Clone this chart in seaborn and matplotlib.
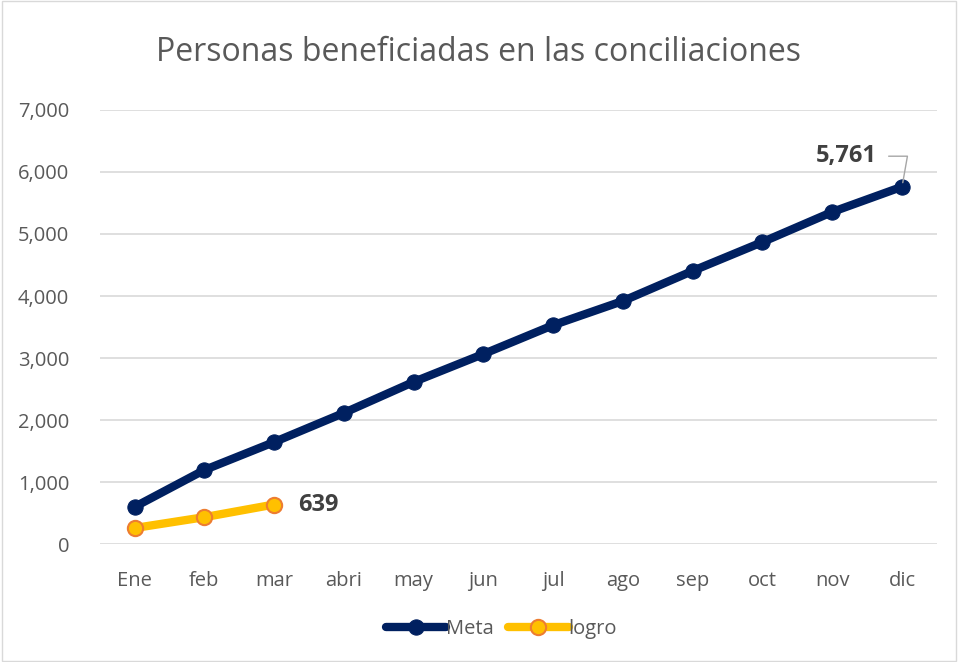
import matplotlib
matplotlib.use('Agg')
from matplotlib import pyplot as plt
import pandas as pd
import seaborn as sns

months = ['Ene', 'feb', 'mar', 'abri', 'may', 'jun', 'jul', 'ago', 'sep', 'oct', 'nov', 'dic']
meta = [600, 1195, 1645, 2115, 2615, 3065, 3530, 3920, 4405, 4870, 5355, 5761]
logro_months = ['Ene', 'feb', 'mar']
logro = [260, 435, 639]

df_meta = pd.DataFrame({'mes': months, 'valor': meta})
df_logro = pd.DataFrame({'mes': logro_months, 'valor': logro})

sns.set_style('white')
plt.rcParams['font.family'] = ['Open Sans', 'DejaVu Sans']
gray = '#595959'

fig = plt.figure(figsize=(9.58, 6.62), dpi=100)
ax = fig.add_axes([0.104, 0.178, 0.874, 0.656])

ax.yaxis.grid(True, color='#d9d9d9', linewidth=1.2)
ax.set_axisbelow(True)

sns.lineplot(x='mes', y='valor', data=df_meta, ax=ax, color='#002060', linewidth=6,
             marker='o', markersize=11, markeredgecolor='#002060', label='Meta', sort=False)
sns.lineplot(x='mes', y='valor', data=df_logro, ax=ax, color='#FFC000', linewidth=6,
             marker='o', markersize=11, markerfacecolor='#FFC000', markeredgecolor='#ED7D31',
             markeredgewidth=1.5, label='logro', sort=False)

ax.set_xlim(-0.5, 11.5)
ax.set_ylim(0, 7000)
ax.set_yticks(range(0, 7001, 1000))
ax.set_yticklabels([f'{v:,}' for v in range(0, 7001, 1000)])
ax.set_xlabel('')
ax.set_ylabel('')
for s in ax.spines.values():
    s.set_visible(False)
ax.tick_params(colors=gray, labelsize=14.5, length=0)
ax.tick_params(axis='x', pad=19)
ax.tick_params(axis='y', pad=22)

ax.annotate(f'{logro[-1]:,}', (2, logro[-1]), xytext=(17, 0), textcoords='offset points',
            fontsize=17, fontweight='bold', color='#404040', va='center', ha='left')
ax.annotate(f'{meta[-1]:,}', (11, meta[-1]), xytext=(-18, 22), textcoords='offset points',
            fontsize=17, fontweight='bold', color='#404040', va='center', ha='right',
            arrowprops=dict(arrowstyle='-', color='#a6a6a6', lw=1,
                            connectionstyle='angle,angleA=0,angleB=80,rad=0',
                            shrinkA=6, shrinkB=3))

fig.suptitle('Personas beneficiadas en las conciliaciones', y=0.945, fontsize=23, color=gray)

leg = ax.legend(loc='upper center', bbox_to_anchor=(0.48, -0.13), ncol=2, frameon=False,
                fontsize=14.5, handlelength=3.0, handletextpad=0.0, columnspacing=0.7)
for t in leg.get_texts():
    t.set_color(gray)

fig.patches.append(plt.Rectangle((0.002, 0.002), 0.996, 0.996, transform=fig.transFigure,
                                 fill=False, edgecolor='#d9d9d9', linewidth=1))

fig.savefig('out.png', dpi=100)
